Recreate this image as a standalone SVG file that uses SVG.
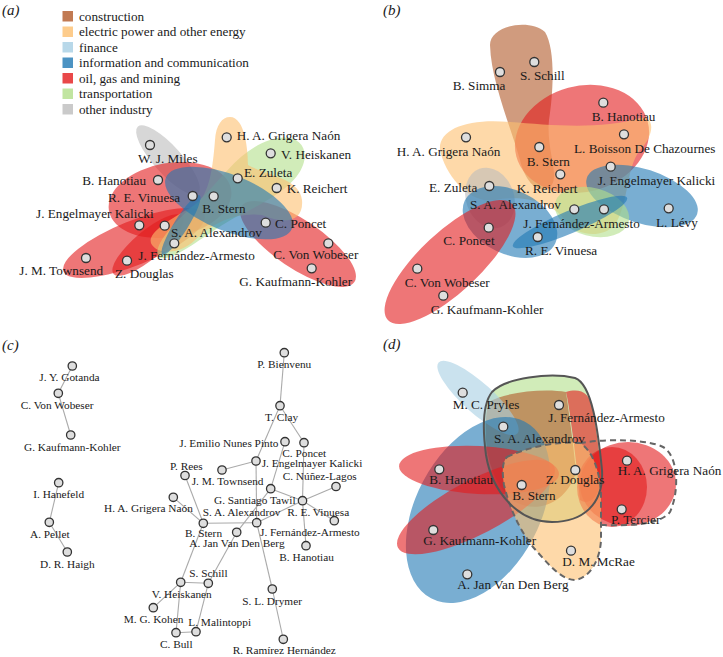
<svg xmlns="http://www.w3.org/2000/svg" width="723" height="657" viewBox="0 0 723 657">
<style>
.n{fill:#dedede;stroke:#333;stroke-width:1.3}
.t{font-family:"Liberation Serif","Times New Roman",serif;font-size:13.2px;fill:#1a1a1a}
.tc{font-size:11.3px}
.pl{font-family:"Liberation Serif","Times New Roman",serif;font-size:15px;font-style:italic;fill:#1a1a1a}
.e{stroke:#aaa;stroke-width:1.1;fill:none}
.h{fill-opacity:0.6;stroke:none}
.sw{opacity:0.8}
.con{fill:#b15928}.ele{fill:#fdbf6f}.fin{fill:#a6cee3}.inf{fill:#1f78b4}.oil{fill:#e31a1c}.tra{fill:#b2df8a}.oth{fill:#bdbdbd}
</style>
<rect width="723" height="657" fill="#fff"/>

<!-- panel labels -->
<text class="pl" x="2" y="15">(a)</text>
<text class="pl" x="383" y="15">(b)</text>
<text class="pl" x="2" y="350">(c)</text>
<text class="pl" x="383" y="349">(d)</text>

<!-- legend -->
<g id="legend" class="t">
<rect class="sw con" x="62.5" y="11" width="10.5" height="10.5"/><text x="79" y="20.5">construction</text>
<rect class="sw ele" x="62.5" y="26.5" width="10.5" height="10.5"/><text x="79" y="36">electric power and other energy</text>
<rect class="sw fin" x="62.5" y="42" width="10.5" height="10.5"/><text x="79" y="51.5">finance</text>
<rect class="sw inf" x="62.5" y="57.5" width="10.5" height="10.5"/><text x="79" y="67">information and communication</text>
<rect class="sw oil" x="62.5" y="73" width="10.5" height="10.5"/><text x="79" y="82.5">oil, gas and mining</text>
<rect class="sw tra" x="62.5" y="88.5" width="10.5" height="10.5"/><text x="79" y="98">transportation</text>
<rect class="sw oth" x="62.5" y="104" width="10.5" height="10.5"/><text x="79" y="113.5">other industry</text>
</g>

<!-- panel a hulls -->
<g id="a-hulls">
<ellipse class="h oth" cx="168" cy="160" rx="45" ry="14" transform="rotate(48 168 160)"/>
<ellipse class="h oil" cx="170" cy="200" rx="62" ry="37" transform="rotate(-10 170 200)"/>
<ellipse class="h oil" cx="134" cy="243" rx="76" ry="22" transform="rotate(-22 134 243)"/>
<ellipse class="h oil" cx="148" cy="245" rx="45" ry="14" transform="rotate(-40 148 245)"/>
<ellipse class="h oil" cx="298" cy="244" rx="68" ry="24" transform="rotate(34 298 244)"/>
<path class="h tra" d="M 160 258 C 150 250,170 225,200 200 C 225 175,240 150,270 140 C 295 132,310 145,303 165 C 296 185,270 200,240 215 C 210 230,175 262,160 258 Z"/>
<path class="h ele" d="M 230 117 C 245 117,248 150,248 165 C 265 175,300 178,302 200 C 304 222,285 225,262 215 C 240 212,215 220,195 240 C 182 253,160 256,152 245 C 145 235,165 222,195 205 C 210 195,213 165,215 140 C 216 125,222 117,230 117 Z"/>
<ellipse class="h inf" cx="229" cy="203" rx="68" ry="28" transform="rotate(22 229 203)"/>
<ellipse class="h inf" cx="181" cy="225" rx="35" ry="7" transform="rotate(-58 181 225)"/>
</g>

<!-- panel a nodes -->
<g id="a-miles"><circle class="n" cx="150" cy="145" r="4.5"/><text class="t" x="138" y="163">W. J. Miles</text></g>
<g id="a-grigera"><circle class="n" cx="226.7" cy="137.3" r="4.5"/><text class="t" x="236.7" y="140">H. A. Grigera Naón</text></g>
<g id="a-heiskanen"><circle class="n" cx="270.7" cy="153.3" r="4.5"/><text class="t" x="281" y="158.7">V. Heiskanen</text></g>
<g id="a-zuleta"><circle class="n" cx="237.7" cy="178.3" r="4.5"/><text class="t" x="244" y="177">E. Zuleta</text></g>
<g id="a-reichert"><circle class="n" cx="276.7" cy="188" r="4.5"/><text class="t" x="286.7" y="193">K. Reichert</text></g>
<g id="a-hanotiau"><circle class="n" cx="158" cy="180" r="4.5"/><text class="t" x="82.3" y="185">B. Hanotiau</text></g>
<g id="a-vinuesa"><circle class="n" cx="192.7" cy="196" r="4.5"/><text class="t" x="108" y="201.7">R. E. Vinuesa</text></g>
<g id="a-stern"><circle class="n" cx="213.7" cy="196.3" r="4.5"/><text class="t" x="202.3" y="213.4">B. Stern</text></g>
<g id="a-kalicki"><circle class="n" cx="139.3" cy="225.3" r="4.5"/><text class="t" x="36" y="218.4">J. Engelmayer Kalicki</text></g>
<g id="a-alexandrov"><circle class="n" cx="164.7" cy="225.7" r="4.5"/><text class="t" x="171" y="237">S. A. Alexandrov</text></g>
<g id="a-fernandez"><circle class="n" cx="174.3" cy="243.3" r="4.5"/><text class="t" x="138.3" y="260.4">J. Fernández-Armesto</text></g>
<g id="a-poncet"><circle class="n" cx="265.7" cy="222.7" r="4.5"/><text class="t" x="275" y="227.7">C. Poncet</text></g>
<g id="a-townsend"><circle class="n" cx="86" cy="258" r="4.5"/><text class="t" x="19.3" y="275.4">J. M. Townsend</text></g>
<g id="a-douglas"><circle class="n" cx="127" cy="260.7" r="4.5"/><text class="t" x="115" y="277.7">Z. Douglas</text></g>
<g id="a-wobeser"><circle class="n" cx="328.3" cy="243.3" r="4.5"/><text class="t" x="273.3" y="259.4">C. Von Wobeser</text></g>
<g id="a-kaufmann"><circle class="n" cx="311.7" cy="268.3" r="4.5"/><text class="t" x="239.3" y="286">G. Kaufmann-Kohler</text></g>

<!-- panel b hulls -->
<g id="b-hulls">
<path class="h con" d="M 490 45 C 490 25,530 18,545 32 C 556 50,553 95,549 120 C 546 150,560 175,551 186 C 539 196,525 182,520 160 C 512 130,491 82,490 45 Z"/>
<ellipse class="h oil" cx="582" cy="139" rx="68" ry="53" transform="rotate(-15 582 139)"/>
<path class="h ele" d="M 440 150 C 438 128,470 118,510 122 C 550 125,600 130,640 118 C 655 115,655 135,640 150 C 625 170,630 200,615 225 C 600 240,575 235,565 220 C 550 200,520 195,495 200 C 470 205,445 175,440 150 Z"/>
<ellipse class="h oth" cx="490" cy="198" rx="24" ry="31" transform="rotate(-20 490 198)"/>
<ellipse class="h inf" cx="510" cy="222" rx="50" ry="32" transform="rotate(25 510 222)"/>
<ellipse class="h inf" cx="642" cy="196" rx="58" ry="27" transform="rotate(18 642 196)"/>
<ellipse class="h tra" cx="592" cy="212" rx="38" ry="24" transform="rotate(15 592 212)"/>
<ellipse class="h inf" cx="570" cy="222" rx="62" ry="11" transform="rotate(-23 570 222)"/>
<ellipse class="h oil" cx="450" cy="262" rx="85" ry="30" transform="rotate(-43 450 262)"/>
</g>

<!-- panel b nodes -->
<g id="b-schill"><circle class="n" cx="534.3" cy="62" r="4.5"/><text class="t" x="520" y="80.4">S. Schill</text></g>
<g id="b-simma"><circle class="n" cx="500" cy="72" r="4.5"/><text class="t" x="452.7" y="90.4">B. Simma</text></g>
<g id="b-hanotiau"><circle class="n" cx="603.3" cy="102.7" r="4.5"/><text class="t" x="591.7" y="121">B. Hanotiau</text></g>
<g id="b-boisson"><circle class="n" cx="624" cy="134.3" r="4.5"/><text class="t" x="574" y="152.7">L. Boisson De Chazournes</text></g>
<g id="b-grigera"><circle class="n" cx="466" cy="137.3" r="4.5"/><text class="t" x="396.7" y="156">H. A. Grigera Naón</text></g>
<g id="b-stern"><circle class="n" cx="539.3" cy="147" r="4.5"/><text class="t" x="526.7" y="166">B. Stern</text></g>
<g id="b-reichert"><circle class="n" cx="560.3" cy="174.3" r="4.5"/><text class="t" x="516.7" y="192.7">K. Reichert</text></g>
<g id="b-kalicki"><circle class="n" cx="610.7" cy="166.7" r="4.5"/><text class="t" x="597.7" y="185.4">J. Engelmayer Kalicki</text></g>
<g id="b-zuleta"><circle class="n" cx="489.3" cy="186" r="4.5"/><text class="t" x="429" y="191.7">E. Zuleta</text></g>
<g id="b-alexandrov"><circle class="n" cx="574.3" cy="209.3" r="4.5"/><text class="t" x="470" y="208.7">S. A. Alexandrov</text></g>
<g id="b-fernandez"><circle class="n" cx="604" cy="209.3" r="4.5"/><text class="t" x="523.3" y="227.7">J. Fernández-Armesto</text></g>
<g id="b-levy"><circle class="n" cx="668.7" cy="208.3" r="4.5"/><text class="t" x="656" y="226.7">L. Lévy</text></g>
<g id="b-poncet"><circle class="n" cx="488.7" cy="227.7" r="4.5"/><text class="t" x="443.3" y="245.4">C. Poncet</text></g>
<g id="b-vinuesa"><circle class="n" cx="537.7" cy="237" r="4.5"/><text class="t" x="525" y="254.7">R. E. Vinuesa</text></g>
<g id="b-wobeser"><circle class="n" cx="417.3" cy="268.7" r="4.5"/><text class="t" x="404.7" y="287">C. Von Wobeser</text></g>
<g id="b-kaufmann"><circle class="n" cx="443.3" cy="295.7" r="4.5"/><text class="t" x="430.7" y="314.4">G. Kaufmann-Kohler</text></g>

<!-- panel c connectors -->
<g id="c-connectors" class="e">
<line x1="72.3" y1="366" x2="58.3" y2="393.3"/>
<line x1="58.3" y1="393.3" x2="70.7" y2="435"/>
<line x1="58.7" y1="482.7" x2="49.3" y2="522.3"/>
<line x1="49.3" y1="522.3" x2="67.3" y2="552"/>
<line x1="284.3" y1="352.7" x2="280" y2="405.7"/>
<line x1="280" y1="405.7" x2="256" y2="461"/>
<line x1="280" y1="405.7" x2="304" y2="442.7"/>
<line x1="285" y1="441.7" x2="270.7" y2="488.7"/>
<line x1="256" y1="461" x2="222" y2="470"/>
<line x1="256" y1="461" x2="256.7" y2="522.7"/>
<line x1="270.7" y1="488.7" x2="302.5" y2="500.7"/>
<line x1="304" y1="442.7" x2="302.5" y2="500.7"/>
<line x1="302.5" y1="500.7" x2="336" y2="486.5"/>
<line x1="302.5" y1="500.7" x2="334.3" y2="520.7"/>
<line x1="302.5" y1="500.7" x2="306" y2="545.7"/>
<line x1="302.5" y1="500.7" x2="256.7" y2="522.7"/>
<line x1="203.3" y1="523.3" x2="256.7" y2="522.7"/>
<line x1="203.3" y1="523.3" x2="185" y2="475.5"/>
<line x1="203.3" y1="523.3" x2="173.3" y2="497.3"/>
<line x1="203.3" y1="523.3" x2="180.7" y2="582.3"/>
<line x1="270.7" y1="488.7" x2="236.7" y2="532.3"/>
<line x1="236.7" y1="532.3" x2="208.3" y2="583.3"/>
<line x1="180.7" y1="582.3" x2="208.3" y2="583.3"/>
<line x1="180.7" y1="582.3" x2="153.3" y2="607.7"/>
<line x1="180.7" y1="582.3" x2="176" y2="632.7"/>
<line x1="176" y1="632.7" x2="196" y2="631.7"/>
<line x1="196" y1="631.7" x2="208.3" y2="583.3"/>
<line x1="256.7" y1="522.7" x2="272.3" y2="589"/>
<line x1="272.3" y1="589" x2="283.3" y2="639.3"/>
</g>

<!-- panel c nodes -->
<g id="c-gotanda"><circle class="n" cx="72.3" cy="366" r="4.2"/><text class="t tc" x="39.3" y="381">J. Y. Gotanda</text></g>
<g id="c-wobeser"><circle class="n" cx="58.3" cy="393.3" r="4.2"/><text class="t tc" x="20.7" y="408.8">C. Von Wobeser</text></g>
<g id="c-kaufmann"><circle class="n" cx="70.7" cy="435" r="4.2"/><text class="t tc" x="24" y="450.8">G. Kaufmann-Kohler</text></g>
<g id="c-hanefeld"><circle class="n" cx="58.7" cy="482.7" r="4.2"/><text class="t tc" x="33.3" y="497.8">I. Hanefeld</text></g>
<g id="c-pellet"><circle class="n" cx="49.3" cy="522.3" r="4.2"/><text class="t tc" x="30" y="537.8">A. Pellet</text></g>
<g id="c-haigh"><circle class="n" cx="67.3" cy="552" r="4.2"/><text class="t tc" x="40" y="568">D. R. Haigh</text></g>
<g id="c-bienvenu"><circle class="n" cx="284.3" cy="352.7" r="4.2"/><text class="t tc" x="257.3" y="368">P. Bienvenu</text></g>
<g id="c-clay"><circle class="n" cx="280" cy="405.7" r="4.2"/><text class="t tc" x="265" y="420.8">T. Clay</text></g>
<g id="c-nunes"><circle class="n" cx="285" cy="441.7" r="4.2"/><text class="t tc" x="179.3" y="447">J. Emilio Nunes Pinto</text></g>
<g id="c-poncet"><circle class="n" cx="304" cy="442.7" r="4.2"/><text class="t tc" x="282.3" y="457">C. Poncet</text></g>
<g id="c-kalicki"><circle class="n" cx="256" cy="461" r="4.2"/><text class="t tc" x="261.7" y="467">J. Engelmayer Kalicki</text></g>
<g id="c-rees"><circle class="n" cx="185" cy="475.5" r="4.2"/><text class="t tc" x="170" y="469.8">P. Rees</text></g>
<g id="c-townsend"><circle class="n" cx="222" cy="470" r="4.2"/><text class="t tc" x="191.7" y="484.8">J. M. Townsend</text></g>
<g id="c-nunez"><circle class="n" cx="336" cy="486.5" r="4.2"/><text class="t tc" x="282.7" y="479.8">C. Núñez-Lagos</text></g>
<g id="c-tawil"><circle class="n" cx="270.7" cy="488.7" r="4.2"/><text class="t tc" x="214" y="503.8">G. Santiago Tawil</text></g>
<g id="c-alexandrov"><circle class="n" cx="302.5" cy="500.7" r="4.2"/><text class="t tc" x="202.7" y="516">S. A. Alexandrov</text></g>
<g id="c-grigera"><circle class="n" cx="173.3" cy="497.3" r="4.2"/><text class="t tc" x="104" y="512">H. A. Grigera Naón</text></g>
<g id="c-vinuesa"><circle class="n" cx="334.3" cy="520.7" r="4.2"/><text class="t tc" x="287.3" y="516">R. E. Vinuesa</text></g>
<g id="c-stern"><circle class="n" cx="203.3" cy="523.3" r="4.2"/><text class="t tc" x="185" y="537">B. Stern</text></g>
<g id="c-fernandez"><circle class="n" cx="256.7" cy="522.7" r="4.2"/><text class="t tc" x="260" y="535.5">J. Fernández-Armesto</text></g>
<g id="c-vandenberg"><circle class="n" cx="236.7" cy="532.3" r="4.2"/><text class="t tc" x="189.3" y="547">A. Jan Van Den Berg</text></g>
<g id="c-hanotiau"><circle class="n" cx="306" cy="545.7" r="4.2"/><text class="t tc" x="279.3" y="561">B. Hanotiau</text></g>
<g id="c-schill"><circle class="n" cx="208.3" cy="583.3" r="4.2"/><text class="t tc" x="189.3" y="576.5">S. Schill</text></g>
<g id="c-heiskanen"><circle class="n" cx="180.7" cy="582.3" r="4.2"/><text class="t tc" x="151.7" y="598.1">V. Heiskanen</text></g>
<g id="c-kohen"><circle class="n" cx="153.3" cy="607.7" r="4.2"/><text class="t tc" x="123.7" y="623">M. G. Kohen</text></g>
<g id="c-malintoppi"><circle class="n" cx="196" cy="631.7" r="4.2"/><text class="t tc" x="188.3" y="625.5">L. Malintoppi</text></g>
<g id="c-bull"><circle class="n" cx="176" cy="632.7" r="4.2"/><text class="t tc" x="160" y="647.8">C. Bull</text></g>
<g id="c-drymer"><circle class="n" cx="272.3" cy="589" r="4.2"/><text class="t tc" x="242.3" y="604.5">S. L. Drymer</text></g>
<g id="c-ramirez"><circle class="n" cx="283.3" cy="639.3" r="4.2"/><text class="t tc" x="232.7" y="653.8">R. Ramírez Hernández</text></g>

<!-- panel d hulls -->
<g id="d-hulls">
<path class="h tra" d="M 492 392 C 505 378,550 372,575 378 C 592 384,598 430,602 470 C 604 505,582 522,552 522 C 518 522,492 492,486 455 C 482 425,484 402,492 392 Z"/>
<path class="h con" d="M 489 402 C 505 392,545 388,566 392 C 570 420,574 450,576 472 C 566 505,535 515,512 500 C 495 485,487 460,486 440 C 485 425,486 410,489 402 Z"/>
<path class="h oil" d="M 566 392 C 580 388,590 392,593 410 C 598 440,602 470,600 485 C 596 500,588 505,580 500 C 578 480,575 450,572 430 C 570 415,568 400,566 392 Z"/>
<ellipse class="h fin" cx="478" cy="398" rx="53" ry="15" transform="rotate(42 478 398)"/>
<ellipse class="h inf" cx="478" cy="510" rx="100" ry="62" transform="rotate(-62 478 510)"/>
<ellipse class="h oil" cx="479" cy="470" rx="80" ry="24" transform="rotate(3 479 470)"/>
<ellipse class="h oil" cx="476" cy="507" rx="88" ry="27" transform="rotate(-27.6 476 507)"/>
<ellipse class="h oil" cx="628" cy="484" rx="48" ry="42"/>
<ellipse class="h oil" cx="612" cy="487" rx="35" ry="40"/>
<path class="h ele" d="M 507 457 C 530 446,560 441,580 443 C 592 450,600 470,601 495 L 601 540 C 600 560,590 578,575 580 C 560 580,545 560,533 547 C 520 530,510 510,504 485 C 502 472,502 462,507 457 Z"/>
<path d="M 507 457 C 530 446,560 441,580 443 C 592 450,600 470,601 495 L 601 540 C 600 560,590 578,575 580 C 560 580,545 560,533 547 C 520 530,510 510,504 485 C 502 472,502 462,507 457 Z" fill="none" stroke="#666" stroke-width="2" stroke-dasharray="6 4"/>
<path d="M 580 443 C 610 438,650 440,663 447 C 678 455,680 490,670 512 C 660 525,630 526,601 525" fill="none" stroke="#666" stroke-width="2" stroke-dasharray="6 4"/>
<path d="M 492 392 C 505 378,550 372,575 378 C 592 384,598 430,602 470 C 604 505,582 522,552 522 C 518 522,492 492,486 455 C 482 425,484 402,492 392 Z" fill="none" stroke="#555" stroke-width="2"/>
</g>

<!-- panel d nodes -->
<g id="d-pryles"><circle class="n" cx="462.7" cy="392.7" r="4.5"/><text class="t" x="452.7" y="409.4">M. C. Pryles</text></g>
<g id="d-fernandez"><circle class="n" cx="559" cy="405" r="4.5"/><text class="t" x="548.3" y="421.7">J. Fernández-Armesto</text></g>
<g id="d-alexandrov"><circle class="n" cx="503.3" cy="426.7" r="4.5"/><text class="t" x="494" y="443.4">S. A. Alexandrov</text></g>
<g id="d-grigera"><circle class="n" cx="627" cy="460.7" r="4.5"/><text class="t" x="617.7" y="475.4">H. A. Grigera Naón</text></g>
<g id="d-hanotiau"><circle class="n" cx="439.3" cy="469.3" r="4.5"/><text class="t" x="429.3" y="483.7">B. Hanotiau</text></g>
<g id="d-douglas"><circle class="n" cx="575.3" cy="470" r="4.5"/><text class="t" x="545.7" y="484.4">Z. Douglas</text></g>
<g id="d-stern"><circle class="n" cx="521.7" cy="485" r="4.5"/><text class="t" x="512.3" y="500.4">B. Stern</text></g>
<g id="d-tercier"><circle class="n" cx="621.7" cy="509.3" r="4.5"/><text class="t" x="611" y="524.4">P. Tercier</text></g>
<g id="d-kaufmann"><circle class="n" cx="433.3" cy="530" r="4.5"/><text class="t" x="423.3" y="545">G. Kaufmann-Kohler</text></g>
<g id="d-mcrae"><circle class="n" cx="571" cy="550.7" r="4.5"/><text class="t" x="562.3" y="566">D. M. McRae</text></g>
<g id="d-vandenberg"><circle class="n" cx="467.3" cy="574.3" r="4.5"/><text class="t" x="457.3" y="589.4">A. Jan Van Den Berg</text></g>
</svg>
